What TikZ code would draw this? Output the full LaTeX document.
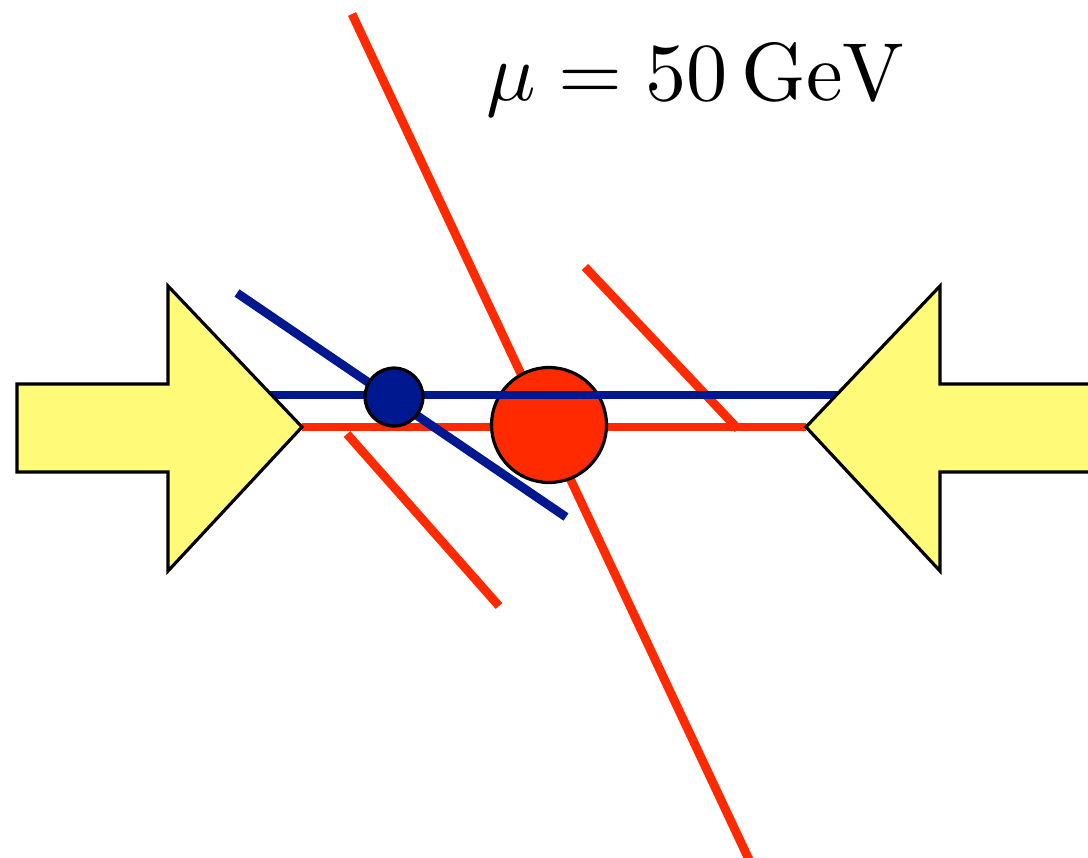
\documentclass[tikz,border=0pt]{standalone}
\usepackage{tikz}
\usetikzlibrary{calc}
\definecolor{beamyellow}{RGB}{255,250,120}
\definecolor{jetred}{RGB}{255,42,0}
\definecolor{jetblue}{RGB}{0,24,143}
\begin{document}
\begin{tikzpicture}[x=0.01cm,y=-0.01cm,
  jet/.style={line width=2.5pt},
  blob/.style={draw=black,line width=0.9pt},
  beam/.style={fill=beamyellow,draw=black,line width=0.9pt,line join=miter}]
  \useasboundingbox (0,0) rectangle (1088,857);
  \clip (0,0) rectangle (1088,857);
  \coordinate (ltip) at (302,427);
  \coordinate (rtip) at (806,427);
  \coordinate (bvtx) at (394,397);
  \coordinate (rvtx) at (549,425);
  % red jets
  \draw[jet,jetred] (352,14) -- (752,866);
  \draw[jet,jetred] (585,267) -- (738,429);
  \draw[jet,jetred] (347,434) -- (499,606);
  \draw[jet,jetred] (ltip) -- (rtip);
  \draw[jet,jetblue] (237,293) -- (566,517);
  \fill[jetred] (rvtx) circle (57.5);
  \draw[blob] (rvtx) circle (57.5);
  \draw[jet,jetblue] (250,395) -- (860,395);
  \fill[jetblue] (bvtx) circle (29);
  \draw[blob] (bvtx) circle (29);
  % incoming beams
  \draw[beam] (17,384) -- (168,384) -- (168,286) -- (ltip) -- (168,571) -- (168,472) -- (17,472) -- cycle;
  \draw[beam] (1095,384) -- (940,384) -- (940,286) -- (rtip) -- (940,571) -- (940,472) -- (1095,472) -- cycle;
  \node[scale=2.34,anchor=base,inner sep=0pt] (scale) at (696,100) {$\mu = 50\,\mathrm{GeV}$};
\end{tikzpicture}
\end{document}
